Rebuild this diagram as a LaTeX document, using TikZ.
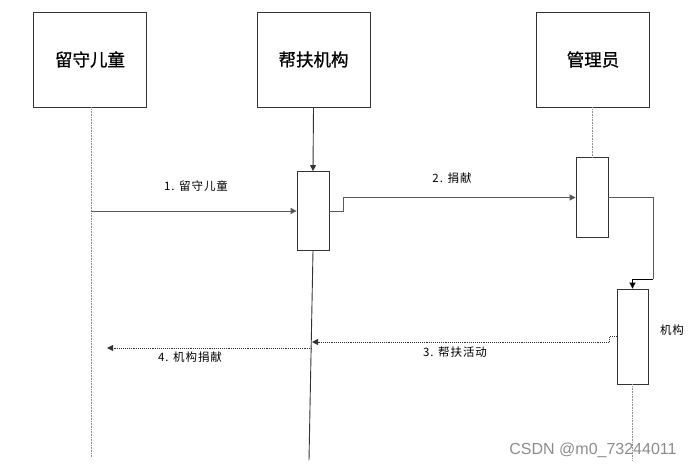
\documentclass[tikz,border=0pt]{standalone}
\usepackage{fontspec}
\newfontfamily\cjk{Noto Sans CJK SC}
\newfontfamily\cjkb[FakeBold=0.8]{Noto Sans CJK SC}
\newfontfamily\cjks[LetterSpace=8]{Noto Sans CJK SC}
\newfontfamily\wm{Liberation Sans}
\usetikzlibrary{arrows.meta}
\begin{document}
\begin{tikzpicture}[x=1pt,y=-1pt,
  actor/.style={draw=black!80, line width=0.8pt, minimum width=113pt, minimum height=95pt, inner sep=0pt, font=\cjkb\fontsize{17.5}{19}\selectfont},
  act/.style={draw=black!80, line width=0.8pt, minimum width=32pt, inner sep=0pt},
  tip/.style={-{Triangle[length=6pt,width=6pt]}},
  msg/.style={draw=black!65, line width=1pt},
  dmsg/.style={draw=black!80, line width=0.9pt, densely dotted},
  life/.style={draw=black!45, line width=0.6pt, densely dotted},
  lab/.style={font=\cjks\fontsize{11.5}{13}\selectfont, inner sep=0pt},
]
\useasboundingbox (0,0) rectangle (697,469);
% actors
\node[actor] (b1) at (90,59.5) {留守儿童};
\node[actor] (b2) at (313.5,59.5) {帮扶机构};
\node[actor] (b3) at (593,59.5) {管理员};
% activations
\node[act, minimum height=79pt] (a2) at (313,211) {};
\node[act, minimum height=80pt] (a3) at (592,197.5) {};
\node[act, minimum width=31pt, minimum height=95pt] (a4) at (632.5,336.5) {};
% coordinates
\coordinate (l1e) at (91,457);
\coordinate (m1s) at (91,211);
\coordinate (l2e) at (309,460);
\coordinate (k) at (653,279);
\coordinate (m3e) at (312,342);
\coordinate (m4s) at (312,348);
\coordinate (m4e) at (107,348);
\coordinate (l4e) at (632.5,460);
% lifelines
\draw[life] (b1.south -| m1s) -- (l1e);
\draw[draw=black!80, line width=0.9pt, tip] (b2.south) -- (a2.north);
\draw[draw=black!80, line width=0.9pt] (a2.south) -- (l2e);
\draw[life] (b3.south -| a3.north) -- (a3.north);
\draw[life] (a4.south) -- (l4e);
% messages
\draw[msg, tip] (m1s) -- (a2.west);
\draw[msg, tip] (a2.east) -- ++(14,0) |- (a3.west);
\draw[msg] (a3.east) -- (a3.east -| k) -- (k);
\draw[draw=black, line width=0.9pt, tip] (k) -| (a4.north);
\draw[dmsg, tip] (a4.west) -- ++(-7,0) |- (m3e);
\draw[dmsg, tip] (m4s) -- (m4e);
% labels
\node[lab] (t1) at (196,186) {1. 留守儿童};
\node[lab] (t2) at (452,178) {2. 捐献};
\node[lab] (t3) at (455,352) {3. 帮扶活动};
\node[lab] (t4) at (190,357) {4. 机构捐献};
\node[lab] (t5) at (672,330) {机构};
\node[font=\wm\fontsize{16}{18}\selectfont, text=black!45, inner sep=0pt] (wm) at (593,450) {CSDN @m0\_73244011};
\end{tikzpicture}
\end{document}
